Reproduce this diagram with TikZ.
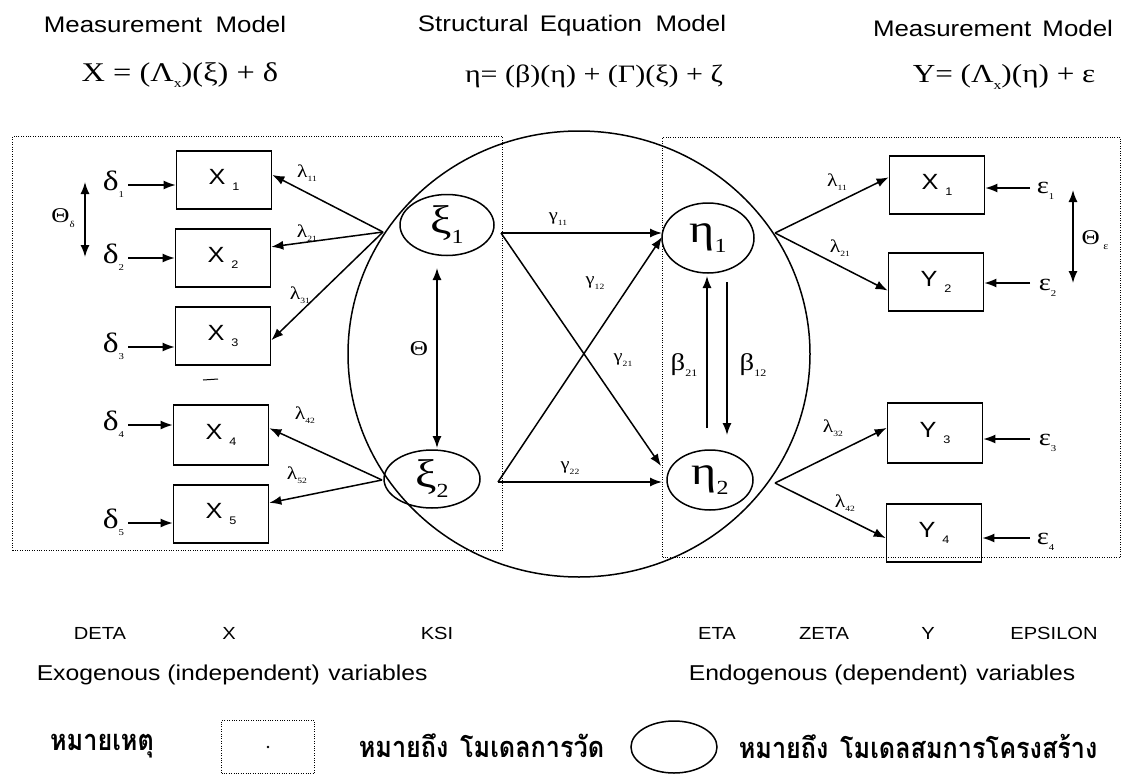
\documentclass[tikz,border=0pt]{standalone}
\usepackage{fontspec}
\setmainfont{Liberation Serif}
\newfontfamily\sans[FakeStretch=1.15]{Liberation Sans}
\newfontfamily\ser[FakeStretch=1.2]{Liberation Serif}
\newfontfamily\thai[Script=Thai,FakeStretch=0.87]{Loma}
\usetikzlibrary{arrows.meta,shapes.geometric}
\newcommand{\dn}[2][9]{\raisebox{-0.25em}{\fontsize{#1}{#1}\selectfont #2}}
\begin{document}
\begin{tikzpicture}[x=1pt,y=-1pt,line width=1.5pt,
  arr/.style={-{Latex[length=12pt,width=9pt]}},
  darr/.style={{Latex[length=12pt,width=9pt]}-{Latex[length=12pt,width=9pt]}},
  mbox/.style={draw,line width=1.7pt,minimum width=95pt,minimum height=58pt,inner sep=0pt,font=\sans\fontsize{22}{22}\selectfont},
  lat/.style={draw,ellipse,inner sep=0pt,font=\ser\fontsize{40}{40}\selectfont},
  dbox/.style={draw,line width=1.3pt,dash pattern=on 1pt off 1.4pt,inner sep=0pt},
  lam/.style={inner sep=0pt,font=\ser\fontsize{18}{18}\selectfont},
  gam/.style={inner sep=0pt,font=\ser\fontsize{17}{17}\selectfont},
  bet/.style={inner sep=0pt,font=\ser\fontsize{24}{24}\selectfont},
  del/.style={inner sep=0pt,anchor=base west,font=\ser\fontsize{28}{28}\selectfont},
  eps/.style={inner sep=0pt,anchor=base west,font=\ser\fontsize{24}{24}\selectfont},
  the/.style={inner sep=0pt,font=\ser\fontsize{21}{21}\selectfont},
  ttl/.style={inner sep=0pt,font=\sans\fontsize{22.5}{22.5}\selectfont},
  eqn/.style={inner sep=0pt,font=\ser\fontsize{26}{26}\selectfont},
  bot/.style={inner sep=0pt,font=\sans\fontsize{17.5}{17.5}\selectfont},
  var/.style={inner sep=0pt,anchor=west,font=\sans\fontsize{21.5}{21.5}\selectfont},
  th/.style={inner sep=0pt,font=\thai\bfseries\fontsize{29}{29}\selectfont}]
\useasboundingbox (0,0) rectangle (1124,776);
\fill[white] (0,0) rectangle (1124,776);

% titles and equations
\node[ttl] (t1) at (165,24) {Measurement\hspace{0.6em}Model};
\node[ttl] (t2) at (572,26) {Structural\hspace{0.5em}Equation\hspace{0.6em}Model};
\node[ttl] (t3) at (993,28) {Measurement\hspace{0.5em}Model};
\node[eqn,font=\ser\fontsize{27}{27}\selectfont] (e1) at (180,75) {X = (Λ\dn[13]{x})(ξ) + δ};
\node[eqn,font=\ser\fontsize{25}{25}\selectfont] (e2) at (594,76) {η= (β)(η) + (Γ)(ξ) + ζ};
\node[eqn] (e3) at (1004,77) {Y= (Λ\dn[13]{x})(η) + ε};

% frames
\node[dbox,minimum width=490pt,minimum height=414pt,anchor=north west] (lbox) at (12,136) {};
\node[dbox,minimum width=458pt,minimum height=420pt,anchor=north west] (rbox) at (662,137) {};
\node[draw,ellipse,minimum width=462pt,minimum height=446pt,inner sep=0pt] (bigc) at (579,354) {};

% observed boxes
\node[mbox] (X1) at (224,180) {X\hspace{7pt}\dn[11]{1}};
\node[mbox] (X2) at (223,258) {X\hspace{7pt}\dn[11]{2}};
\node[mbox] (X3) at (223,336) {X\hspace{7pt}\dn[11]{3}};
\node[mbox,minimum height=60pt] (X4) at (221,435) {X\hspace{7pt}\dn[11]{4}};
\node[mbox] (X5) at (221,514) {X\hspace{7pt}\dn[11]{5}};
\node[mbox] (R1) at (937,185) {X\hspace{7pt}\dn[11]{1}};
\node[mbox] (R2) at (936,282) {Y\hspace{7pt}\dn[11]{2}};
\node[mbox,minimum height=60pt] (R3) at (935,433) {Y\hspace{7pt}\dn[11]{3}};
\node[mbox] (R4) at (934,533) {Y\hspace{7pt}\dn[11]{4}};

% latent variables
\node[lat,minimum width=94pt,minimum height=61pt] (k1) at (447,225) {ξ\dn[20]{1}};
\node[lat,minimum width=96pt,minimum height=58pt] (k2) at (432,479) {ξ\dn[20]{2}};
\node[lat,minimum width=92pt,minimum height=70pt] (n1) at (708,238) {η\dn[20]{1}};
\node[lat,minimum width=86pt,minimum height=60pt] (n2) at (710,480) {η\dn[20]{2}};

% branching points
\coordinate (p1) at (383,232);
\coordinate (p2) at (382,480);
\coordinate (q1) at (775,233);
\coordinate (q2) at (775,483);
\coordinate (s1) at (501,233);
\coordinate (s2) at (498,482);
\coordinate (g1) at (662,237);
\coordinate (g2) at (661,466);

% x loadings
\draw[arr] (p1) -- (X1.6);
\draw[arr] (p1) -- (X2.13);
\draw[arr] (p1) -- (X3.-5);
\draw[arr] (p2) -- (X4.8);
\draw[arr] (p2) -- (X5.13);
\node[lam] (l11) at (307,173) {λ\dn[8]{11}};
\node[lam] (l21) at (307,233) {λ\dn[8]{21}};
\node[lam] (l31) at (300,295) {λ\dn[8]{31}};
\node[lam] (l42) at (305,415) {λ\dn[8]{42}};
\node[lam] (l52) at (297,475) {λ\dn[8]{52}};

% y loadings
\draw[arr] (q1) -- (R1.171);
\draw[arr] (q1) -- (R2.190);
\draw[arr] (q2) -- (R3.174);
\draw[arr] (q2) -- (R4.186);
\node[lam] (m11) at (837,182) {λ\dn[8]{11}};
\node[lam] (m21) at (840,248) {λ\dn[8]{21}};
\node[lam] (m32) at (833,428) {λ\dn[8]{32}};
\node[lam] (m42) at (845,503) {λ\dn[8]{42}};

% deltas
\coordinate (d1) at (128,185);
\coordinate (d2) at (128,258);
\coordinate (d3) at (128,347);
\coordinate (d4) at (128,425);
\coordinate (d5) at (128,523);
\draw[arr] (d1) -- (d1 -| X1.west);
\draw[arr] (d2) -- (d2 -| X2.west);
\draw[arr] (d3) -- (d3 -| X3.west);
\draw[arr] (d4) -- (d4 -| X4.west);
\draw[arr] (d5) -- (d5 -| X5.west);
\node[del] (D1) at (102,190) {δ\dn[9]{1}};
\node[del] (D2) at (102,263) {δ\dn[9]{2}};
\node[del] (D3) at (102,352) {δ\dn[9]{3}};
\node[del] (D4) at (102,430) {δ\dn[9]{4}};
\node[del] (D5) at (102,528) {δ\dn[9]{5}};
\coordinate (td1) at (85,182);
\coordinate (td2) at (85,257);
\draw[darr] (td1) -- (td2);
\node[the] (TD) at (63,218) {Θ\dn[9]{δ}};

% epsilons
\coordinate (f1) at (1030,188);
\coordinate (f2) at (1030,283);
\coordinate (f3) at (1030,439);
\coordinate (f4) at (1030,538);
\draw[arr] (f1) -- (f1 -| R1.east);
\draw[arr] (f2) -- (f2 -| R2.east);
\draw[arr] (f3) -- (f3 -| R3.east);
\draw[arr] (f4) -- (f4 -| R4.east);
\node[eps] (E1) at (1036,193) {ε\dn[9]{1}};
\node[eps] (E2) at (1038,290) {ε\dn[9]{2}};
\node[eps] (E3) at (1038,445) {ε\dn[9]{3}};
\node[eps] (E4) at (1036,544) {ε\dn[9]{4}};
\coordinate (te1) at (1073,190);
\coordinate (te2) at (1073,283);
\draw[darr] (te1) -- (te2);
\node[the] (TE) at (1095,240) {Θ\,\dn[10]{ε}};

% structural paths
\draw[arr] (s1) -- (s1 -| rbox.west);
\draw[arr] (s1) -- (g2);
\draw[arr] (s2) -- (s2 -| rbox.west);
\draw[arr] (s2) -- (g1);
\node[gam] (c11) at (558,219) {γ\dn[8]{11}};
\node[gam] (c12) at (595,283) {γ\dn[8]{12}};
\node[gam] (c21) at (623,360) {γ\dn[8]{21}};
\node[gam] (c22) at (570,468) {γ\dn[8]{22}};
\coordinate (b1a) at (707,428);
\coordinate (b1b) at (707,276);
\coordinate (b2a) at (727,282);
\coordinate (b2b) at (727,435);
\draw[arr] (b1a) -- (b1b);
\draw[arr] (b2a) -- (b2b);
\node[bet] (B21) at (684,365) {β\dn[10]{21}};
\node[bet] (B12) at (753,365) {β\dn[10]{12}};
\coordinate (th1) at (437,268);
\coordinate (th2) at (437,448);
\draw[darr] (th1) -- (th2);
\node[the] (TH) at (419,349) {Θ};
\draw[line width=1pt] (203,380) -- (218,379);

% bottom labels
\node[bot] (w1) at (100,633) {DETA};
\node[bot] (w2) at (229,633) {X};
\node[bot] (w3) at (437,633) {KSI};
\node[bot] (w4) at (717,633) {ETA};
\node[bot] (w5) at (824,633) {ZETA};
\node[bot] (w6) at (928,633) {Y};
\node[bot] (w7) at (1054,633) {EPSILON};
\node[var] (v1) at (36,675) {Exogenous (independent)\hspace{0.4em}variables};
\node[var] (v2) at (688,675) {Endogenous (dependent)\hspace{0.4em}variables};

% legend
\node[th] (n0) at (102,746) {หมายเหตุ};
\node[dbox,minimum width=93pt,minimum height=53pt] (lg1) at (268,747) {};
\fill (lg1.center) circle (1.3pt);
\node[th,anchor=west] (n1t) at (358,746) {หมายถึง\hspace{0.4em}โมเดลการวัด};
\node[draw,ellipse,minimum width=86pt,minimum height=52pt,inner sep=0pt] (lg2) at (674,747) {};
\node[th,anchor=west] (n2t) at (738,746) {หมายถึง\hspace{0.4em}โมเดลสมการโครงสร้าง};
\end{tikzpicture}
\end{document}
